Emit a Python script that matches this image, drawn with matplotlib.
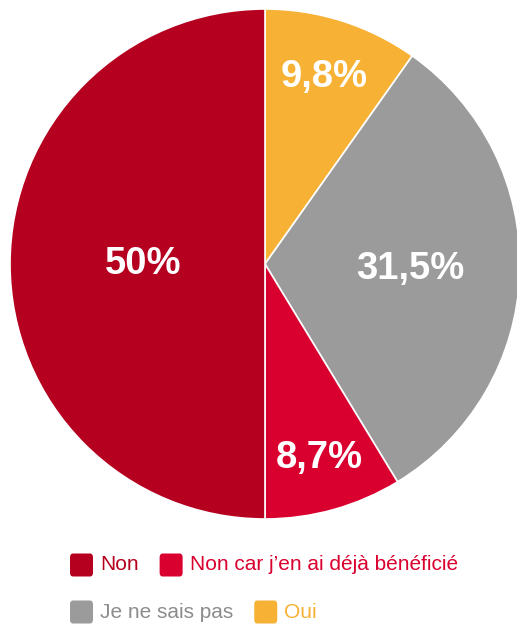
import matplotlib
matplotlib.use("Agg")
import matplotlib.pyplot as plt
from matplotlib.patches import FancyBboxPatch
import numpy as np

plt.rcParams['font.family'] = ['Liberation Sans', 'DejaVu Sans']

# slices, clockwise from the top
labels = ["Oui", "Je ne sais pas", "Non car j\u2019en ai déjà bénéficié", "Non"]
values = [9.8, 31.5, 8.7, 50.0]
value_text = ["9,8%", "31,5%", "8,7%", "50%"]
colors = ["#F7B135", "#9B9B9B", "#D9002F", "#B5001F"]
text_colors = ["#F7B135", "#8C8C8C", "#D9002F", "#B5001F"]
label_radius = [0.77, 0.57, 0.79, 0.48]

# legend rows (indices into labels)
legend_rows = [[3, 2], [1, 0]]

W, H = 517, 628
fig = plt.figure(figsize=(W / 100, H / 100), dpi=100)

cx, cy, r = 265, 264, 255
ax = fig.add_axes([(cx - r) / W, (H - cy - r) / H, 2 * r / W, 2 * r / H])
wedges, _ = ax.pie(values, colors=colors, startangle=90, counterclock=False,
                   radius=1, wedgeprops=dict(edgecolor="white", linewidth=1.2))
for w in wedges:
    w.set_clip_on(False)
ax.set_xlim(-1, 1)
ax.set_ylim(-1, 1)
ax.axis("off")

for w, txt, rr in zip(wedges, value_text, label_radius):
    ang = np.deg2rad((w.theta1 + w.theta2) / 2)
    ax.text(rr * np.cos(ang), rr * np.sin(ang), txt, color="white",
            fontsize=27.5, fontweight="bold", ha="center", va="center")

# legend
fig.canvas.draw()
renderer = fig.canvas.get_renderer()
sq = 23
row_y = [565, 612]
for row, y in zip(legend_rows, row_y):
    x = 70
    for i in row:
        p = FancyBboxPatch(((x) / W, (H - y - sq / 2) / H), sq / W, sq / H,
                           boxstyle="round,pad=0,rounding_size=0.006",
                           transform=fig.transFigure, facecolor=colors[i],
                           edgecolor="none")
        fig.patches.append(p)
        t = fig.text((x + sq + 7) / W, (H - y) / H, labels[i], color=text_colors[i],
                     fontsize=15, ha="left", va="center")
        bb = t.get_window_extent(renderer)
        x = bb.x1 + 21

fig.savefig("out.png", dpi=100)
